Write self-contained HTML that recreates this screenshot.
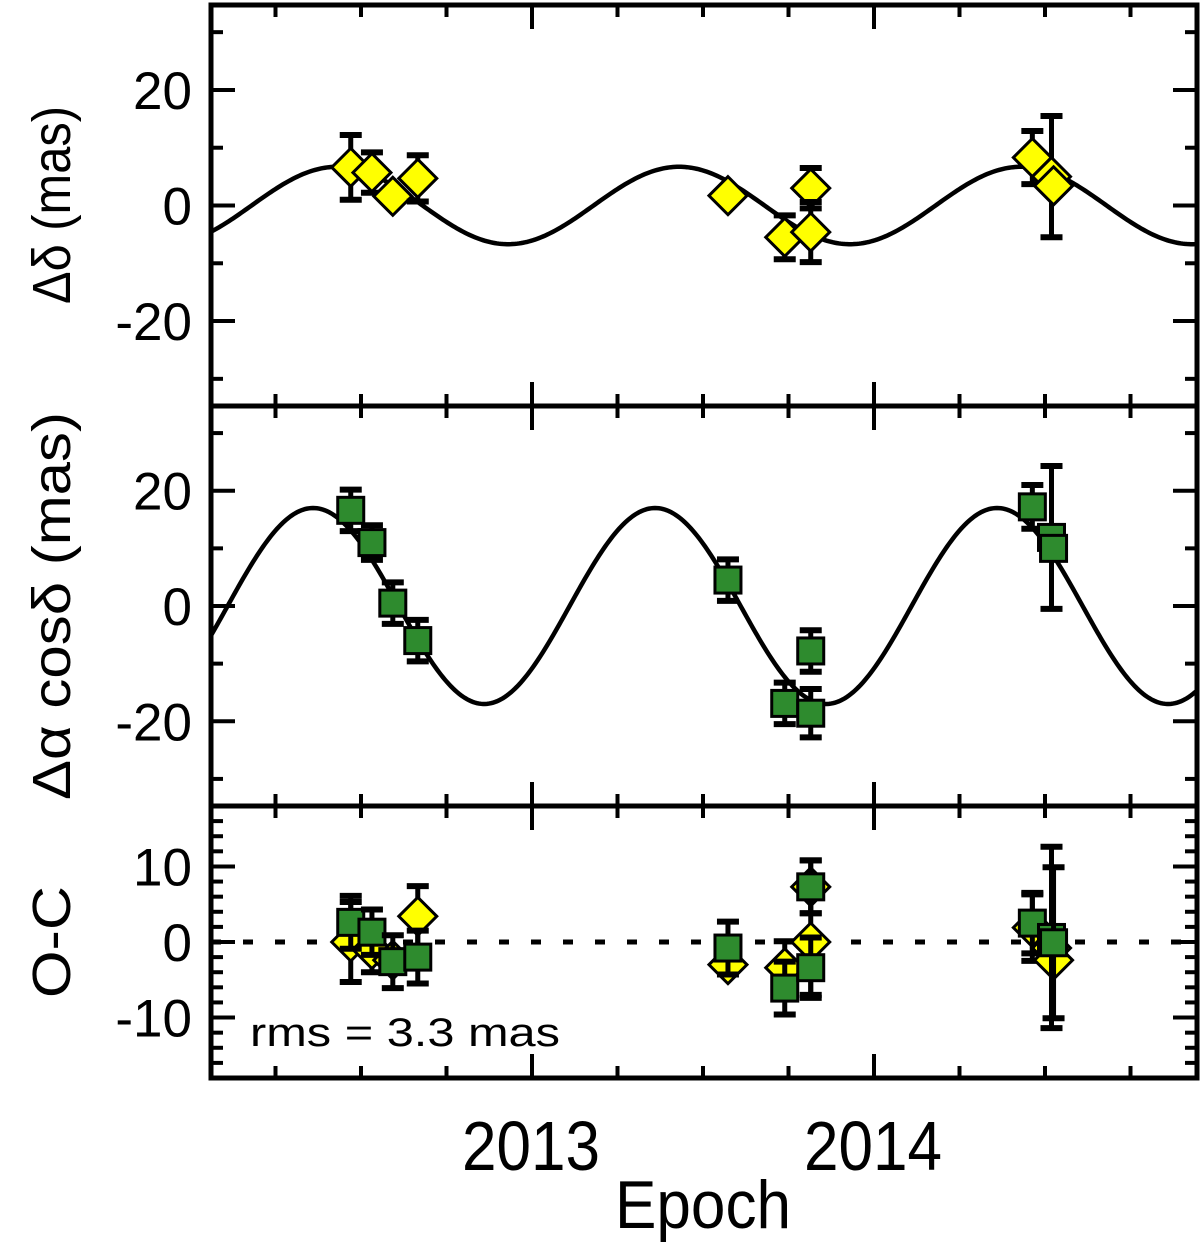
<!DOCTYPE html>
<html><head><meta charset="utf-8"><style>
html,body{margin:0;padding:0;background:#fff;}
svg{display:block;font-family:"Liberation Sans",sans-serif;}
</style></head><body>
<svg id="chart" width="1200" height="1244" viewBox="0 0 1200 1244" xmlns="http://www.w3.org/2000/svg">
<g id="g"></g>
<text x="531" y="1170" font-size="70" text-anchor="middle" textLength="138" lengthAdjust="spacingAndGlyphs">2013</text>
<text x="873" y="1170" font-size="70" text-anchor="middle" textLength="138" lengthAdjust="spacingAndGlyphs">2014</text>
<text x="703" y="1228" font-size="68" text-anchor="middle" textLength="176" lengthAdjust="spacingAndGlyphs">Epoch</text>
<text transform="translate(70,205) rotate(-90)" font-size="54" text-anchor="middle" textLength="198" lengthAdjust="spacingAndGlyphs">Δδ (mas)</text>
<text transform="translate(70,606) rotate(-90)" font-size="54" text-anchor="middle" textLength="388" lengthAdjust="spacingAndGlyphs">Δα cosδ (mas)</text>
<text transform="translate(70,942) rotate(-90)" font-size="54" text-anchor="middle" textLength="112" lengthAdjust="spacingAndGlyphs">O-C</text>
<text x="250" y="1046" font-size="40" textLength="310" lengthAdjust="spacingAndGlyphs">rms = 3.3 mas</text>
</svg>
<script>
// ---- data ----
const epochs = [2012.470, 2012.532, 2012.593, 2012.666, 2013.573, 2013.739, 2013.815, 2013.815, 2014.463, 2014.519, 2014.525];
const decValues = [6.6, 5.7, 1.6, 4.7, 1.7, -5.5, 3.0, -4.6, 8.3, 5.0, 3.4];
const decErrors = [5.6, 3.5, 0.5, 4.0, 0.5, 3.8, 3.5, 5.2, 4.6, 10.5, 1.0];
const raValues = [16.6, 11.0, 0.5, -6.0, 4.5, -16.9, -7.8, -18.6, 17.2, 11.9, 10.0];
const raErrors = [3.6, 3.0, 3.6, 3.6, 3.6, 3.6, 3.6, 4.2, 3.8, 12.4, 1.0];
const ocDecValues = [0.0, -1.0, -2.4, 3.4, -3.0, -3.4, 7.3, 0.0, 1.9, -0.8, -2.4];
const ocDecErrors = [5.3, 3.0, 0.5, 4.0, 0.5, 3.5, 3.5, 7.0, 4.4, 1.0, 0.5];
const ocRaValues = [2.6, 1.3, -2.6, -2.0, -0.8, -6.1, 7.3, -3.4, 2.5, 0.6, -0.1];
const ocRaErrors = [3.5, 3.0, 3.5, 3.5, 3.5, 3.5, 3.5, 4.0, 4.0, 12.0, 10.0];
const decModel = [6.7, 2012.43];   // amplitude, peak epoch
const raModel = [17.0, 2012.36];
const xTicks = [2013, 2014];
const decTicks = [-20, 0, 20];
const raTicks = [-20, 0, 20];
const ocTicks = [-10, 0, 10];

const NS = "http://www.w3.org/2000/svg";
const g = document.getElementById('g');
const X0 = 211, X1 = 1197;
const xs = v => 532 + (v - 2013) * 342;
const panels = [
  {top: 5, bot: 406, min: -34.7, max: 34.7, ticks: decTicks, minor: 10, name: 'dec'},
  {top: 406, bot: 806, min: -34.7, max: 34.7, ticks: raTicks, minor: 10, name: 'ra'},
  {top: 806, bot: 1078, min: -18, max: 18, ticks: ocTicks, minor: 2, name: 'oc'}
];
panels.forEach(p => p.y = v => p.bot - (v - p.min) / (p.max - p.min) * (p.bot - p.top));
function el(tag, attrs, parent) {
  const e = document.createElementNS(NS, tag);
  for (const k in attrs) e.setAttribute(k, attrs[k]);
  (parent || g).appendChild(e);
  return e;
}
function line(x1, y1, x2, y2, w, parent) {
  return el('line', {x1, y1, x2, y2, stroke: '#000', 'stroke-width': w}, parent);
}
panels.forEach(p => {
  const ax = el('g', {});
  
  
  for (let t = 2012.25; t < 2015; t += 0.25) {
    const x = xs(t); if (x <= X0 || x >= X1) continue;
    const major = Math.abs(t - Math.round(t)) < 1e-6;
    const L = major ? 24 : 12;
    line(x, p.bot, x, p.bot - L, 4, ax);
    line(x, p.top, x, p.top + L, 4, ax);
  }
  for (let v = Math.ceil(p.min / p.minor) * p.minor; v <= p.max; v += p.minor) {
    const y = p.y(v);
    const major = p.ticks.includes(v);
    const L = major ? 24 : 12;
    line(X0, y, X0 + L, y, 4, ax);
    line(X1, y, X1 - L, y, 4, ax);
  }
  p.ticks.forEach(v => {
    const t = el('text', {x: 192, y: p.y(v) + 19, 'font-size': 53, 'text-anchor': 'end'}, ax);
    
    
    t.textContent = String(v);
  });
  el('rect', {x: X0, y: p.top, width: X1 - X0, height: p.bot - p.top, fill: 'none', stroke: '#000', 'stroke-width': 5}, ax);
});
function curve(p, model, name) {
  let d = '';
  for (let px = X0; px <= X1; px += 2) {
    const t = 2013 + (px - 532) / 342;
    const v = model[0] * Math.cos(2 * Math.PI * (t - model[1]));
    d += (d ? 'L' : 'M') + px + ' ' + p.y(v).toFixed(2);
  }
  const c = el('path', {d, fill: 'none', stroke: '#000', 'stroke-width': 4.5});
  
  
}
curve(panels[0], decModel, 'dec-model-curve');
curve(panels[1], raModel, 'ra-model-curve');
const zl = line(X0, panels[2].y(0), X1, panels[2].y(0), 5);
zl.setAttribute('stroke-dasharray', '10 22');


function errbar(x, y1, y2, parent) {
  line(x, y1, x, y2, 5, parent);
  line(x - 11, y1, x + 11, y1, 6, parent);
  line(x - 11, y2, x + 11, y2, 6, parent);
}
function diamonds(p, vals, errs, name) {
  const grp = el('g', {});
  
  
  vals.forEach((v, i) => {
    const x = xs(epochs[i]), y = p.y(v);
    errbar(x, p.y(v + errs[i]), p.y(v - errs[i]), grp);
    const m = el('polygon', {points: `${x},${y-19} ${x+19},${y} ${x},${y+19} ${x-19},${y}`, fill: '#ffff00', stroke: '#000', 'stroke-width': 3}, grp);
    
    
  });
}
function squares(p, vals, errs, name) {
  const grp = el('g', {});
  
  
  vals.forEach((v, i) => {
    const x = xs(epochs[i]), y = p.y(v);
    errbar(x, p.y(v + errs[i]), p.y(v - errs[i]), grp);
    const m = el('rect', {x: x - 13, y: y - 13, width: 26, height: 26, fill: '#2e8b2e', stroke: '#000', 'stroke-width': 3}, grp);
    
    
  });
}
diamonds(panels[0], decValues, decErrors, 'dec-series');
squares(panels[1], raValues, raErrors, 'ra-series');
diamonds(panels[2], ocDecValues, ocDecErrors, 'oc-dec-series');
squares(panels[2], ocRaValues, ocRaErrors, 'oc-ra-series');
</script>
</body></html>
